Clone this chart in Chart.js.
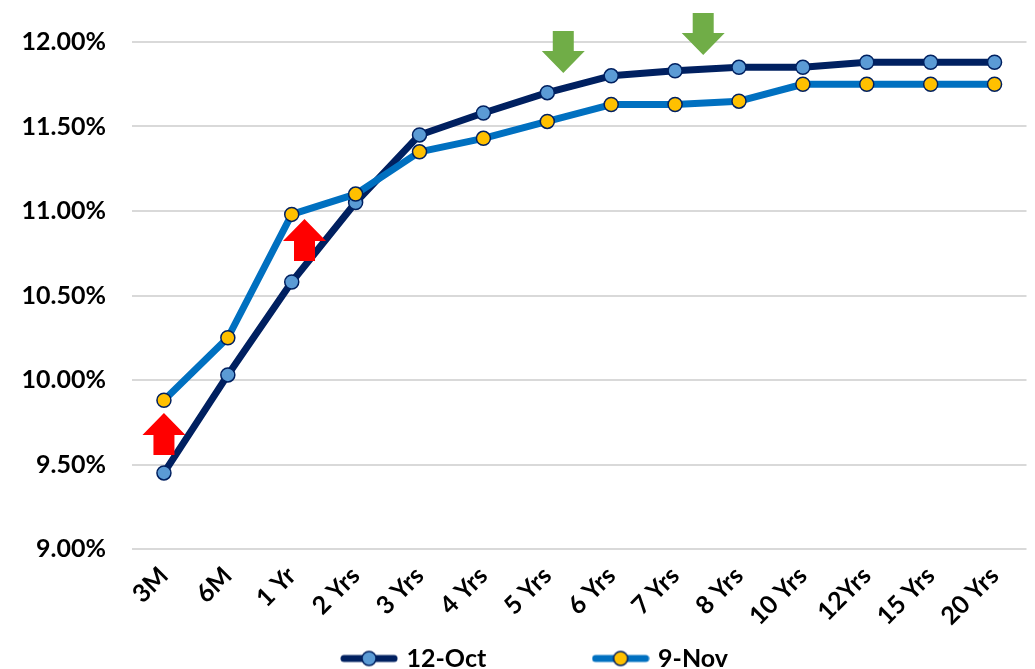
<!DOCTYPE html>
<html lang="en">
<head>
    <meta charset="UTF-8">
    <title>Yield curve: 12-Oct vs 9-Nov</title>
    <script src="https://cdn.jsdelivr.net/npm/chart.js"></script>
    <style>
        html, body { margin: 0; padding: 0; background: #fff; }
        #wrap { width: 1035px; height: 669px; }
    </style>
</head>
<body>
    <div id="wrap"><canvas id="curve"></canvas></div>

    <script>
        const tenors = ["3M", "6M", "1 Yr", "2 Yrs", "3 Yrs", "4 Yrs", "5 Yrs", "6 Yrs", "7 Yrs", "8 Yrs", "10 Yrs", "12Yrs", "15 Yrs", "20 Yrs"];
        const oct12 = [9.45, 10.03, 10.58, 11.05, 11.45, 11.58, 11.70, 11.80, 11.83, 11.85, 11.85, 11.88, 11.88, 11.88];
        const nov9 = [9.88, 10.25, 10.98, 11.10, 11.35, 11.43, 11.53, 11.63, 11.63, 11.65, 11.75, 11.75, 11.75, 11.75];
        const yTicks = [9.0, 9.5, 10.0, 10.5, 11.0, 11.5, 12.0];

        // arrow annotations: category index, tail value, tip value
        const upArrows = [[0, 9.556, 9.805], [2.2, 10.704, 10.953]];
        const downArrows = [[6.25, 12.065, 11.817], [8.44, 12.172, 11.923]];

        const FONT = "Lato, 'Open Sans', sans-serif";

        function legendMark(lineColor, dotColor) {
            const c = document.createElement("canvas");
            c.width = 58; c.height = 18;
            const g = c.getContext("2d");
            g.strokeStyle = lineColor;
            g.lineWidth = 7;
            g.lineCap = "round";
            g.beginPath(); g.moveTo(4, 9); g.lineTo(54, 9); g.stroke();
            g.fillStyle = dotColor;
            g.strokeStyle = "#002060";
            g.lineWidth = 1.5;
            g.beginPath(); g.arc(29, 9, 7, 0, Math.PI * 2); g.fill(); g.stroke();
            return c;
        }
        const marks = [legendMark("#002060", "#5b9bd5"), legendMark("#0070c0", "#ffc000")];

        function drawArrow(ctx, x, yTail, yTip, color) {
            const half = 21.5, shaft = 10.5;
            const dir = yTip < yTail ? 1 : -1; // 1 = pointing up
            const headBase = yTip + dir * 22;
            ctx.fillStyle = color;
            ctx.beginPath();
            ctx.moveTo(x, yTip);
            ctx.lineTo(x + half, headBase);
            ctx.lineTo(x + shaft, headBase);
            ctx.lineTo(x + shaft, yTail);
            ctx.lineTo(x - shaft, yTail);
            ctx.lineTo(x - shaft, headBase);
            ctx.lineTo(x - half, headBase);
            ctx.closePath();
            ctx.fill();
        }

        const arrowPlugin = {
            id: "arrows",
            afterLayout(chart) {
                // legend sits a little right of the canvas centre in the original
                chart.legend.left += 22;
                chart.legend.right += 22;
            },
            afterDraw(chart) {
                const ctx = chart.ctx;
                const xs = chart.scales.x, ys = chart.scales.y;
                const step = xs.getPixelForValue(1) - xs.getPixelForValue(0);
                const px = i => xs.getPixelForValue(0) + i * step;
                ctx.save();
                upArrows.forEach(a => drawArrow(ctx, px(a[0]), ys.getPixelForValue(a[1]), ys.getPixelForValue(a[2]), "#ff0000"));
                downArrows.forEach(a => drawArrow(ctx, px(a[0]), ys.getPixelForValue(a[1]), ys.getPixelForValue(a[2]), "#70ad47"));
                ctx.restore();
            }
        };

        new Chart(document.getElementById("curve"), {
            type: "line",
            data: {
                labels: tenors,
                datasets: [{
                    label: "12-Oct",
                    data: oct12,
                    borderColor: "#002060",
                    borderWidth: 7,
                    pointBackgroundColor: "#5b9bd5",
                    pointBorderColor: "#002060",
                    pointBorderWidth: 1.5,
                    pointRadius: 7,
                    order: 1
                }, {
                    label: "9-Nov",
                    data: nov9,
                    borderColor: "#0070c0",
                    borderWidth: 7,
                    pointBackgroundColor: "#ffc000",
                    pointBorderColor: "#002060",
                    pointBorderWidth: 1.5,
                    pointRadius: 7,
                    order: 0
                }]
            },
            options: {
                responsive: true,
                maintainAspectRatio: false,
                animation: false,
                layout: { padding: { top: 42, right: 7, left: 0, bottom: -12 } },
                elements: { line: { tension: 0, borderJoinStyle: "round" } },
                scales: {
                    x: {
                        offset: true,
                        grid: { display: false },
                        border: { display: false },
                        ticks: {
                            color: "#000",
                            font: { family: FONT, size: 25, weight: "bold" },
                            maxRotation: 45,
                            minRotation: 45,
                            padding: 4,
                            autoSkip: false
                        },
                        afterFit: s => { s.height = 97; }
                    },
                    y: {
                        min: 9,
                        max: 12,
                        afterBuildTicks: s => { s.ticks = yTicks.map(v => ({ value: v })); },
                        grid: { color: "#d9d9d9", lineWidth: 2, drawTicks: false },
                        border: { display: false },
                        ticks: {
                            color: "#000",
                            font: { family: FONT, size: 25, weight: "bold" },
                            padding: 26,
                            callback: v => v.toFixed(2) + "%"
                        },
                        afterFit: s => { s.width = 132; }
                    }
                },
                plugins: {
                    tooltip: { enabled: false },
                    legend: {
                        position: "bottom",
                        labels: {
                            usePointStyle: true,
                            pointStyleWidth: 50,
                            padding: 0,
                            color: "#000",
                            font: { family: FONT, size: 25, weight: "bold" },
                            sort: (a, b) => a.datasetIndex - b.datasetIndex,
                            generateLabels: chart => {
                                const items = Chart.defaults.plugins.legend.labels.generateLabels(chart);
                                items.forEach(it => {
                                    it.pointStyle = marks[it.datasetIndex];
                                    // trailing gap so the second entry sits well to the right
                                    if (it.datasetIndex === 0) it.text += "\u00a0".repeat(18);
                                });
                                return items;
                            }
                        }
                    }
                }
            },
            plugins: [arrowPlugin]
        });
    </script>
</body>
</html>
